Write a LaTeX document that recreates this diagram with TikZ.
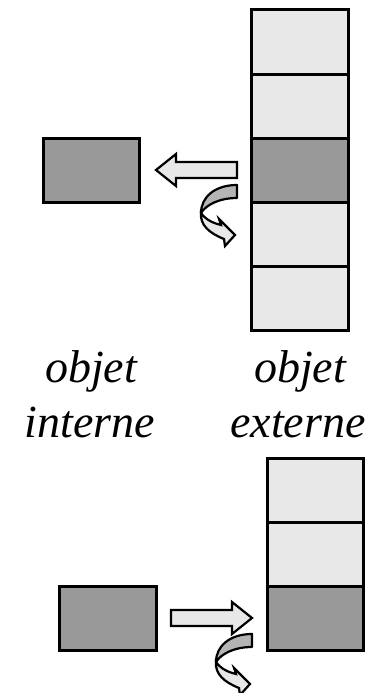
\documentclass[tikz,border=0pt]{standalone}
\usepackage{fontspec}
\setmainfont{Liberation Serif}
\newfontfamily\wordfont{Liberation Serif Italic}
\definecolor{cellgray}{HTML}{E8E8E8}
\definecolor{objgray}{HTML}{999999}
\definecolor{twistgray}{HTML}{B4B4B4}
\tikzset{
  cell/.style={draw, line width=3pt, fill=cellgray, minimum width=97pt,
    minimum height=64pt, inner sep=0pt, outer sep=0pt},
  arrowline/.style={draw, line width=2.2pt, line join=miter},
  word/.style={font=\fontsize{46}{50}\wordfont, anchor=base, inner sep=0pt},
  twist/.pic={
    % upper half of the ribbon
    \filldraw[arrowline, fill=twistgray, line join=round] (0,0) .. controls (-22,0) and (-36,12) .. (-36,28)
      .. controls (-31,20) and (-18,13) .. (0,13) -- cycle;
    % lower half with its head
    \filldraw[arrowline, fill=cellgray] (-36,28) .. controls (-31,35) and (-24,38) .. (-16,40)
      -- (-18,34) -- (-2,50) -- (-12,61) -- (-13,54)
      .. controls (-28,48) and (-37,40) .. (-36,28) -- cycle;
  }
}
\begin{document}
\begin{tikzpicture}[x=1pt,y=-1pt]
	\useasboundingbox (0,0) rectangle (381,693);
	\def\h{64}

	% reading: external column and internal object
	\foreach \i/\c in {0/cellgray,1/cellgray,2/objgray,3/cellgray,4/cellgray} {
		\node[cell, fill=\c] (ext\i) at (299.5, 42+\i*\h) {};
	}
	\node[cell, fill=objgray, minimum width=96pt] (int) at (91,170) {};
	\filldraw[arrowline, fill=cellgray] ([xshift=-14pt]ext2.west) ++(0,-8) -- ++(-61,0) -- ++(0,-8)
		-- ++(-20,16) -- ++(20,16) -- ++(0,-8) -- ++(61,0) -- cycle;
	\pic at ([shift={(-14,-17)}]ext2.south west) {twist};

	% labels
	\node[word] (lblint1) at (91,382) {objet};
	\node[word] (lblint2) at (90,437) {interne};
	\node[word] (lblext1) at (300,382) {objet};
	\node[word] (lblext2) at (298,437) {externe};

	% writing: internal object back into the column
	\foreach \i/\c in {0/cellgray,1/cellgray,2/objgray} {
		\node[cell, fill=\c, minimum width=96pt] (out\i) at (315, 490+\i*\h) {};
	}
	\node[cell, fill=objgray] (obj) at (107.5,618) {};
	\filldraw[arrowline, fill=cellgray] ([xshift=15pt]obj.east) ++(0,-8) -- ++(61,0) -- ++(0,-8)
		-- ++(20,16) -- ++(-20,16) -- ++(0,-8) -- ++(-61,0) -- cycle;
	\pic at ([shift={(-15,-16)}]out2.south west) {twist};
\end{tikzpicture}
\end{document}
